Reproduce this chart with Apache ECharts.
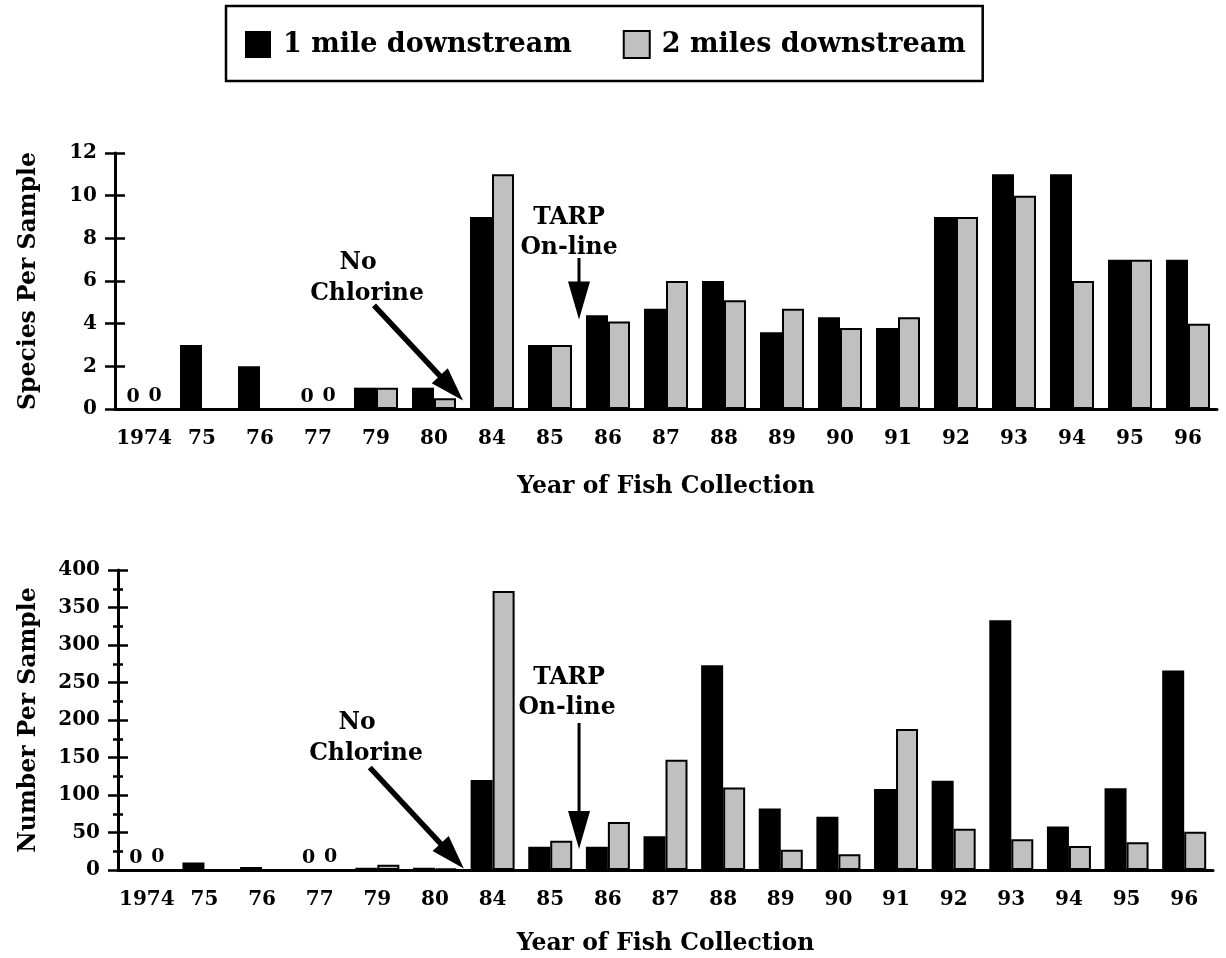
<!DOCTYPE html>
<html><head><meta charset="utf-8">
<script src="https://cdn.jsdelivr.net/npm/echarts@6/dist/echarts.min.js"></script>
<style>html,body{margin:0;padding:0;background:#fff}#c{width:1226px;height:958px}</style>
</head><body><div id="c"></div>
<script>
const categories = ['1974','75','76','77','79','80','84','85','86','87','88','89','90','91','92','93','94','95','96'];
const seriesNames = ['1 mile downstream','2 miles downstream'];
const speciesOneMile  = [0,3,2,0,1,1,9,3,4.4,4.7,6,3.6,4.3,3.8,9,11,11,7,7];
const speciesTwoMiles = [0,null,null,0,1,0.5,11,3,4.1,6,5.1,4.7,3.8,4.3,9,10,6,7,4];
const numberOneMile   = [0,10,4,0,3,3,120,31,31,45,273,82,71,108,119,333,58,109,266];
const numberTwoMiles  = [0,null,null,0,7,2,372,39,64,147,110,27,21,188,55,41,32,37,51];
const zeroLabelYears = ['1974','77'];
const speciesRange = {min:0, max:12, interval:2};
const numberRange = {min:0, max:400, interval:50};

const FONT = 'DejaVu Serif';
const txt = (size) => ({fontFamily: FONT, fontWeight: 'bold', fontSize: size, color: '#000'});

function toData(vals){
  return vals.map((v,i) => zeroLabelYears.includes(categories[i]) ? {value: v, label: {show: true}} : v);
}

const gridsDef = [
  {left: 115, top: 153, width: 1102, height: 256},
  {left: 118, top: 570, width: 1095, height: 300}
];

const xAxes = [], yAxes = [];
[0,1].forEach(g => {
  xAxes.push({
    type: 'category', gridIndex: g, data: categories,
    axisLine: {lineStyle: {color: '#000', width: 3}},
    axisTick: {length: 9, lineStyle: {color: '#000', width: 2.5}},
    axisLabel: Object.assign({margin: 20, interval: 0, hideOverlap: false}, txt(20)),
    name: 'Year of Fish Collection', nameLocation: 'middle', nameGap: g === 0 ? 66 : 62,
    nameTextStyle: txt(23.5)
  });
  xAxes.push({
    type: 'category', gridIndex: g, data: categories, position: 'bottom',
    axisLine: {show: false},
    axisTick: {inside: true, length: 8, lineStyle: {color: '#000', width: 2.5}},
    axisLabel: {show: false}
  });
  const r = g === 0 ? speciesRange : numberRange;
  yAxes.push(Object.assign({
    type: 'value', gridIndex: g,
    axisLine: {show: true, lineStyle: {color: '#000', width: 3}},
    axisTick: {show: true, length: 10, lineStyle: {color: '#000', width: 2.5}},
    minorTick: {show: g === 1, splitNumber: 2, length: 5, lineStyle: {color: '#000', width: 2.5}},
    axisLabel: Object.assign({margin: 18}, txt(20)),
    splitLine: {show: false},
    name: g === 0 ? 'Species Per Sample' : 'Number Per Sample',
    nameLocation: 'middle', nameRotate: 90, nameGap: g === 0 ? 74 : 77,
    nameTextStyle: txt(23.5)
  }, r));
  yAxes.push(Object.assign({
    type: 'value', gridIndex: g, position: 'left',
    axisLine: {show: false},
    axisTick: {show: true, inside: true, length: 10, lineStyle: {color: '#000', width: 2.5}},
    minorTick: {show: g === 1, splitNumber: 2, length: 5, lineStyle: {color: '#000', width: 2.5}},
    axisLabel: {show: false},
    splitLine: {show: false}
  }, r));
});

const barLabel = Object.assign({show: false, position: 'top', distance: 2}, txt(19));
const blackStyle = {color: '#000'};
const grayStyle = {color: '#c0c0c0', borderColor: '#000', borderWidth: 2};

const series = [
  {name: seriesNames[0], type: 'bar', xAxisIndex: 0, yAxisIndex: 0, data: toData(speciesOneMile), itemStyle: blackStyle, barWidth: 22, barGap: '0%', label: barLabel},
  {name: seriesNames[1], type: 'bar', xAxisIndex: 0, yAxisIndex: 0, data: toData(speciesTwoMiles), itemStyle: grayStyle, barWidth: 22, barGap: '0%', label: barLabel},
  {name: seriesNames[0], type: 'bar', xAxisIndex: 2, yAxisIndex: 2, data: toData(numberOneMile), itemStyle: blackStyle, barWidth: 22, barGap: '0%', label: barLabel},
  {name: seriesNames[1], type: 'bar', xAxisIndex: 2, yAxisIndex: 2, data: toData(numberTwoMiles), itemStyle: grayStyle, barWidth: 22, barGap: '0%', label: barLabel}
];

const chart = echarts.init(document.getElementById('c'), null, {renderer: 'canvas'});
chart.setOption({
  backgroundColor: '#fff',
  animation: false,
  legend: {
    data: seriesNames, left: 226, top: 6,
    orient: 'horizontal',
    itemWidth: 26, itemHeight: 27, itemGap: 51,
    padding: [24, 17, 22, 19],
    borderColor: '#000', borderWidth: 2.5,
    icon: 'rect',
    textStyle: Object.assign({padding: [0, 0, 0, 7]}, txt(27))
  },
  grid: gridsDef,
  xAxis: xAxes,
  yAxis: yAxes,
  series: series
});

// Annotations (arrows + text), anchored to axis coordinates
function px(seriesIndex, cat, val){ return chart.convertToPixel({seriesIndex: seriesIndex}, [cat, val]); }
function boundary(seriesIndex, a, b, val){
  const p1 = px(seriesIndex, a, val), p2 = px(seriesIndex, b, val);
  return [(p1[0] + p2[0]) / 2, p1[1]];
}
function arrow(tail, tip, w, L, h){
  const dx = tip[0] - tail[0], dy = tip[1] - tail[1];
  const len = Math.sqrt(dx*dx + dy*dy);
  const ux = dx/len, uy = dy/len;
  const bx = tip[0] - ux*L, by = tip[1] - uy*L;
  const nx = -uy, ny = ux;
  return [
    {type: 'line', shape: {x1: tail[0], y1: tail[1], x2: bx + ux*2, y2: by + uy*2}, style: {stroke: '#000', lineWidth: w}, z: 100},
    {type: 'polygon', shape: {points: [[tip[0], tip[1]], [bx + nx*h, by + ny*h], [bx - nx*h, by - ny*h]]}, style: {fill: '#000'}, z: 100}
  ];
}
function label(text, x, y){
  return {type: 'text', x: x, y: y, z: 100, style: {text: text, align: 'center', verticalAlign: 'middle', fill: '#000', font: 'bold 23.5px "DejaVu Serif"'}};
}

const g = [];
// top chart
const t1 = boundary(0, '80', '84', 0.4);
g.push(...arrow([t1[0] - 89, t1[1] - 95], t1, 5.5, 34, 11));
g.push(label('No', 358, 263), label('Chlorine', 367, 294));
const t2 = boundary(0, '85', '86', 4.2);
g.push(...arrow([t2[0], 258], t2, 3, 38, 11));
g.push(label('TARP', 569, 218), label('On-line', 569, 248));
// bottom chart
const b1 = boundary(2, '80', '84', 2);
g.push(...arrow([b1[0] - 94, b1[1] - 101], b1, 5.5, 34, 11));
g.push(label('No', 357, 723), label('Chlorine', 366, 754));
const b2 = boundary(2, '85', '86', 28);
g.push(...arrow([b2[0], 723], b2, 3, 38, 11));
g.push(label('TARP', 569, 678), label('On-line', 567, 708));

chart.setOption({graphic: g});
</script>
</body></html>
